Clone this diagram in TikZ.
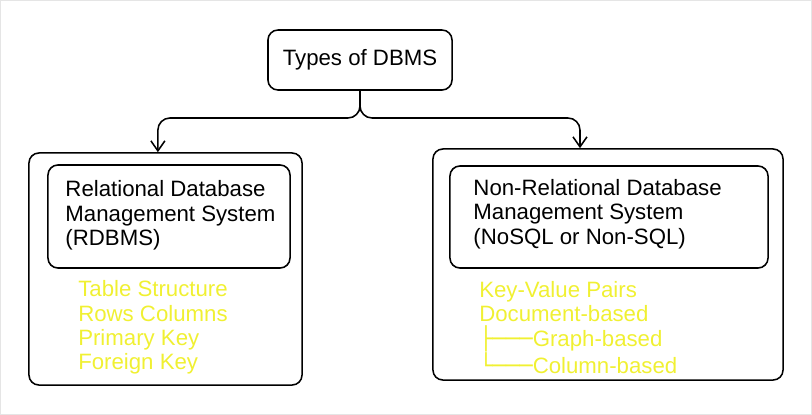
\documentclass[tikz,border=0pt]{standalone}
\usepackage{fontspec}
\setmainfont{Liberation Sans}
\newfontfamily\treefont{DejaVu Sans Mono}
\usetikzlibrary{arrows.meta}
\definecolor{listyellow}{RGB}{240,240,50}

\begin{document}
\begin{tikzpicture}[x=0.025cm,y=-0.025cm,>={Straight Barb[length=2.5mm,width=3.5mm]},
	every node/.style={font=\fontsize{15.8}{17.4}\selectfont},
	box/.style={draw, line width=1.1pt, rounded corners=0.25cm},
	title/.style={anchor=west, align=left, inner sep=0pt},
	list/.style={anchor=west, align=left, text=listyellow, inner sep=0pt}]
	
	% Page frame
	\useasboundingbox (0,0) rectangle (812,415);
	\draw[black!10] (0.5,0.5) rectangle (811.5,414.5);
	
	% Draw the root node
	\node[box, minimum width=4.6cm, minimum height=1.5cm] (types) at (360,60) {Types of DBMS};
	
	% Draw the outer boxes
	\node[box, minimum width=6.825cm, minimum height=5.8cm] (rdb) at (165.5,269) {};
	\node[box, minimum width=8.75cm, minimum height=5.775cm] (nrdb) at (608,264.5) {};
	
	% Draw the title boxes
	\node[box, minimum width=6.05cm, minimum height=2.575cm] (rdbtitle) at (169,216.5) {};
	\node[box, minimum width=7.95cm, minimum height=2.55cm] (nrdbtitle) at (609,217) {};
	\node[title] (rdbtext) at ([xshift=0.45cm,yshift=0.03cm]rdbtitle.west)
		{Relational Database\\Management System\\(RDBMS)};
	\node[title] (nrdbtext) at ([xshift=0.6cm,yshift=0.07cm]nrdbtitle.west)
		{Non-Relational Database\\Management System\\(NoSQL or Non-SQL)};
	
	% Draw the lists
	\node[list] (rdblist) at (78,327.5) {Table Structure\\Rows Columns\\Primary Key\\Foreign Key};
	\node[list] (nrdblist) at (479,327.5) {Key-Value Pairs\\Document-based\\{\treefont ├───}Graph-based\\{\treefont └───}Column-based};
	
	% Draw the branches
	\coordinate (split) at (360,118);
	\draw[->, line width=1.1pt, rounded corners=0.3cm] (types.south) -- (split) -| ([xshift=-0.19cm]rdb.north);
	\draw[->, line width=1.1pt, rounded corners=0.3cm] (types.south) -- (split) -| ([xshift=-0.7cm]nrdb.north);
\end{tikzpicture}
\end{document}
